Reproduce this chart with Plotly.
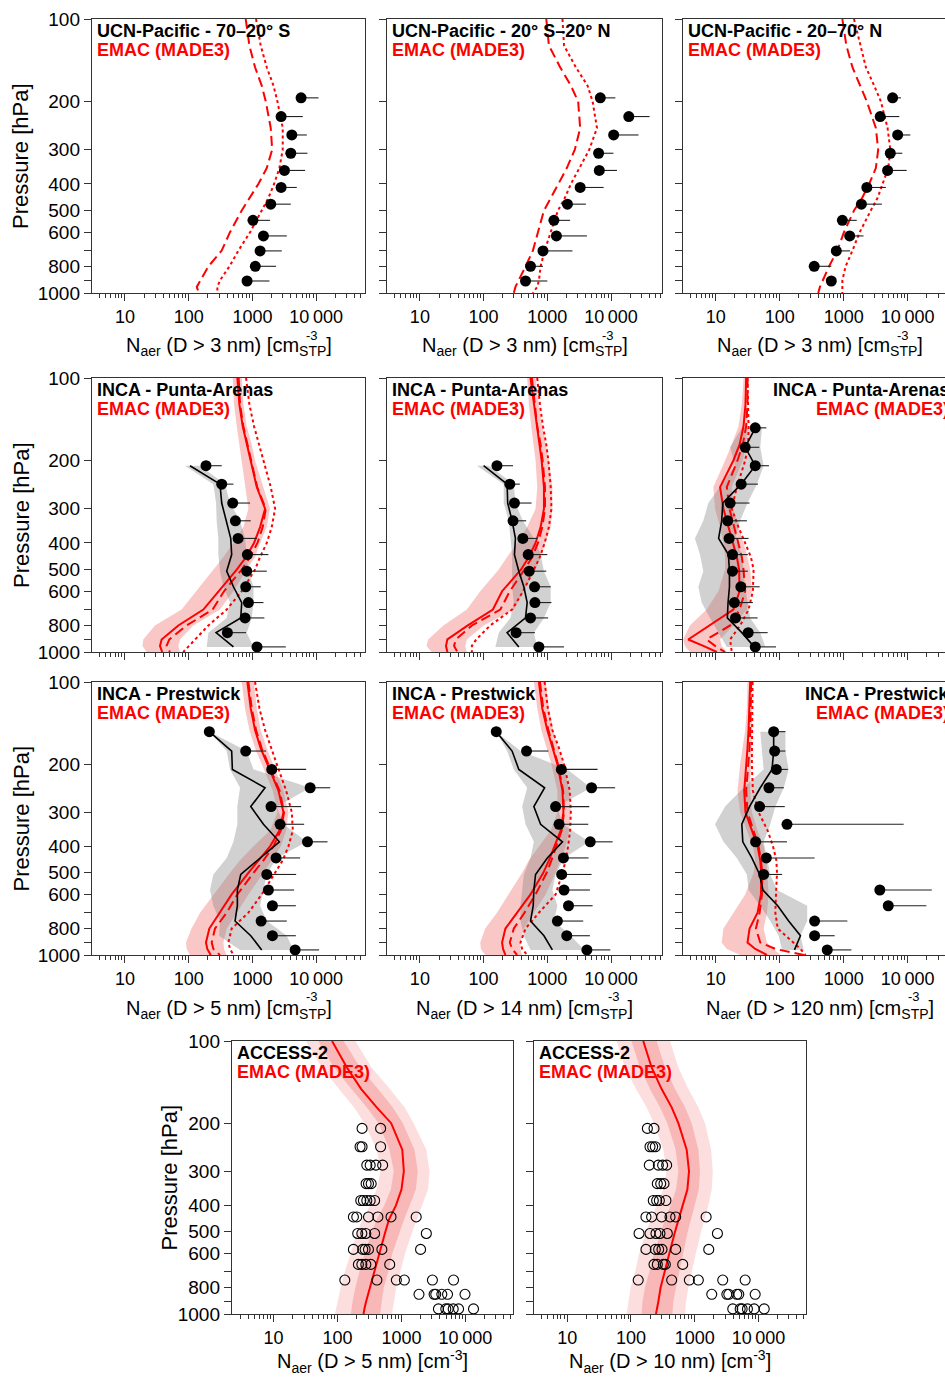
import plotly.graph_objects as go

# ------------------------------------------------------------------ data
P_MODEL = [100, 125, 150, 175, 200, 250, 300, 350, 400, 450, 500, 600, 700, 800, 900, 950, 1000]
P_UCN = [194, 227, 265, 309, 357, 412, 474, 543, 619, 702, 799, 904]
P_INCA12 = [209, 244, 286, 332, 385, 441, 507, 578, 660, 751, 850, 958]
P_INCA14 = [152, 179, 209, 244, 286, 332, 385, 441, 507, 578, 660, 751, 850, 958]
P_ACCESS = [209, 244, 285, 333, 384, 441, 507, 580, 658, 751, 847, 958]

X_TICKS = [10, 100, 1000, 10000]
X_TICKTEXT = ["10", "100", "1000", "10\u2009000"]
Y_TICKS = [100, 200, 300, 400, 500, 600, 800, 1000]
Y_TICKTEXT = ["100", "200", "300", "400", "500", "600", "800", "1000"]
Y_MINOR = [700, 900]

# UCN-Pacific 70-20 S
ucn_s_obs = [5800, 2820, 4150, 4000, 3180, 2820, 1940, 1020, 1490, 1320, 1110, 824]
ucn_s_hi = [10900, 6170, 7130, 7300, 6710, 4970, 4000, 1890, 3460, 2890, 2350, 1850]
ucn_s_dash = [785, 897, 1100, 1400, 1620, 1940, 2040, 1680, 1240, 897, 680, 445, 330, 204, 151, 134, 145]
ucn_s_dot = [1140, 1350, 1680, 2140, 2470, 2990, 2990, 2650, 2190, 1780, 1400, 919, 603, 435, 310, 282, 282]
# UCN-Pacific 20S-20N
ucn_t_obs = [6790, 19000, 11000, 6380, 6540, 3280, 2070, 1270, 1390, 855, 545, 455]
ucn_t_hi = [11700, 40300, 27000, 10900, 12400, 7660, 4030, 2280, 4180, 2480, 855, 1000]
ucn_t_dash = [964, 1060, 1590, 2340, 3050, 3280, 2700, 2020, 1490, 1130, 886, 713, 594, 455, 357, 316, 298]
ucn_t_dot = [1730, 1830, 2800, 4280, 5140, 6020, 4550, 3160, 2340, 1880, 1470, 1130, 908, 785, 739, 695, 594]
# UCN-Pacific 20-70 N
ucn_n_obs = [5810, 3720, 6970, 5350, 4850, 2300, 1890, 953, 1240, 767, 346, 640]
ucn_n_hi = [7850, 7400, 11000, 8240, 9640, 4570, 3950, 1600, 2040, 1260, 640, 748]
ucn_n_dash = [953, 1100, 1370, 1810, 2300, 3180, 3460, 3180, 2500, 1940, 1450, 1010, 795, 589, 462, 425, 400]
ucn_n_dot = [1450, 1810, 2220, 2990, 3810, 4850, 5350, 4970, 4050, 3380, 2650, 1780, 1370, 1070, 953, 953, 953]

# INCA Punta-Arenas D>5
pa5_obs = [187, 330, 491, 541, 596, 834, 815, 786, 865, 767, 405, 1180]
pa5_hi = [330, 504, 919, 941, 1170, 1780, 1680, 1350, 1490, 1540, 795, 3340]
pa5_med = [105, 310, 330, 385, 457, 473, 395, 504, 680, 656, 269, 504]
pa5_lo = [87.5, 244, 269, 275, 292, 292, 310, 351, 446, 395, 204, 192]
pa5_up = [151, 372, 446, 640, 767, 814, 865, 1040, 1040, 977, 814, 1040]
pa5_sol = [581, 625, 705, 815, 942, 1170, 1580, 1320, 1060, 796, 568, 292, 170, 68.9, 37.7, 35.5, 38.5]
pa5_blo = [491, 515, 568, 625, 680, 767, 865, 722, 504, 351, 244, 134, 77.6, 29.6, 19.4, 18.9, 21.9]
pa5_bhi = [680, 722, 814, 977, 1100, 1490, 1890, 1680, 1320, 1100, 814, 504, 310, 118, 73.1, 68.9, 73.1]
pa5_dash = [609, 640, 720, 830, 955, 1190, 1620, 1450, 1200, 919, 680, 359, 238, 93.1, 49.7, 45.1, 50.9]
pa5_dot = [796, 897, 1060, 1290, 1490, 1940, 2270, 2010, 1680, 1320, 1100, 680, 395, 204, 126, 98.8, 82.4]
# INCA Punta-Arenas D>14
pa14_obs = [162, 258, 305, 290, 413, 501, 520, 631, 639, 545, 324, 738]
pa14_hi = [290, 370, 566, 466, 695, 1000, 964, 1130, 1160, 1030, 639, 1830]
pa14_med = [100, 234, 239, 280, 316, 305, 357, 428, 483, 455, 234, 357]
pa14_lo = [78.5, 207, 207, 248, 264, 280, 280, 280, 298, 264, 173, 153]
pa14_up = [120, 298, 316, 413, 615, 785, 886, 1130, 1130, 886, 615, 695]
pa14_sol = [545, 615, 679, 757, 814, 886, 886, 785, 654, 514, 388, 195, 140, 56.6, 27, 25.7, 27]
pa14_blo = [483, 514, 559, 615, 654, 695, 654, 483, 336, 234, 173, 88.6, 54.6, 23.4, 13.5, 12.7, 15.3]
pa14_bhi = [654, 738, 834, 941, 1060, 1200, 1200, 1130, 941, 785, 654, 428, 298, 100, 54.6, 51.4, 54.6]
pa14_dash = [573, 631, 695, 785, 844, 919, 919, 834, 713, 580, 438, 258, 183, 65.5, 36.6, 34.4, 38.8]
pa14_dot = [695, 766, 855, 964, 1040, 1130, 1160, 1060, 908, 766, 615, 418, 280, 127, 76.6, 65.5, 65.5]
# INCA Punta-Arenas D>120
pa120_obs = [41.5, 28.9, 41.5, 25, 16.8, 15.4, 16.2, 18.3, 18.3, 24.7, 19.6, 20.4, 32.2, 41.5]
pa120_hi = [61.8, 48, 67.9, 45.7, 33.8, 30.7, 32.6, 31.8, 31.8, 48.6, 38.1, 45.1, 64.8, 87.5]
pa120_med = [41.5, 28.9, 41.5, 25, 12.9, 12.4, 11.1, 15.8, 16.4, 16.4, 15.6, 15.2, 25.6, 40.0]
pa120_lo = [25.6, 16.8, 20.1, 12.4, 7.67, 6.4, 4.73, 5.68, 6.4, 5.35, 6.03, 8.15, 11, 14.9]
pa120_up = [52.8, 49.7, 56.1, 44.1, 31.4, 24.1, 20.1, 25.6, 27.2, 28.9, 31.4, 34.6, 49.7, 59.6]
pa120_sol = [29.9, 29.2, 27.2, 23.6, 18.9, 11.7, 13.2, 15.8, 18.5, 21.4, 23.2, 23.6, 18.9, 8.15, 3.72, 6.4, 10.4]
pa120_blo = [27.2, 25.6, 22.7, 17.8, 14, 9.19, 9.76, 11.7, 13.2, 14, 14, 11, 7.23, 3.95, 3.1, 3.3, 3.95]
pa120_bhi = [31.4, 31.4, 31.4, 29.9, 26.5, 17.8, 18.9, 22.7, 27.2, 31.4, 34.6, 36.7, 30.7, 18.9, 11.7, 12.4, 14.9]
pa120_dash = [31.4, 31.4, 29.9, 26.5, 21.9, 14.9, 16.4, 19.4, 22.7, 25.6, 27.2, 28.9, 23.6, 16.8, 7.23, 9.76, 14]
pa120_dot = [31.4, 32.2, 32.6, 32.2, 28.9, 21.4, 17.8, 22.7, 28.9, 35.5, 39.1, 38.1, 32.6, 24.1, 16.8, 17.2, 17.8]

# INCA Prestwick D>5
pw5_obs = [211, 785, 2010, 8050, 1960, 2720, 7310, 2350, 1680, 1780, 2060, 1370, 2060, 4680]
pw5_hi = [211, 1640, 6970, 16600, 5810, 6480, 15100, 5610, 4850, 4510, 4800, 3460, 4800, 11100]
pw5_med = [211, 473, 485, 1580, 942, 1490, 2650, 1320, 656, 581, 581, 534, 942, 1400]
pw5_lo = [211, 395, 446, 640, 581, 581, 504, 395, 244, 216, 244, 310, 300, 640]
pw5_up = [211, 814, 1040, 8050, 2410, 3070, 7130, 2410, 1680, 1490, 1320, 1680, 3460, 4410]
pw5_sol = [834, 941, 1100, 1350, 1720, 2560, 3070, 2660, 1890, 1240, 865, 473, 310, 211, 187, 196, 222]
pw5_blo = [679, 767, 897, 1100, 1400, 2090, 2470, 1890, 1040, 640, 446, 244, 151, 111, 90.8, 93.1, 105]
pw5_bhi = [1060, 1170, 1350, 1680, 2140, 3070, 3670, 3380, 2790, 2010, 1490, 865, 568, 395, 351, 359, 395]
pw5_dash = [865, 977, 1140, 1400, 1780, 2660, 3140, 2790, 2140, 1490, 1040, 581, 395, 259, 230, 244, 310]
pw5_dot = [1100, 1290, 1580, 2010, 2410, 3380, 4150, 4300, 3670, 2990, 2270, 1400, 865, 473, 420, 446, 504]
# INCA Prestwick D>14
pw14_obs = [158, 472, 1660, 4950, 1350, 1530, 4720, 1790, 1680, 1830, 2150, 1440, 2020, 4180]
pw14_hi = [158, 1040, 6150, 11600, 4550, 4390, 10600, 4440, 4950, 4660, 5140, 3660, 4660, 9760]
pw14_med = [158, 280, 357, 908, 615, 785, 1730, 1000, 654, 615, 601, 545, 886, 1200]
pw14_lo = [158, 234, 298, 483, 403, 455, 615, 545, 428, 403, 379, 379, 428, 545]
pw14_up = [158, 379, 2070, 4830, 1440, 1730, 4550, 1830, 1350, 1200, 1440, 1270, 2340, 3790]
pw14_sol = [738, 834, 1000, 1200, 1440, 1730, 1790, 1620, 1310, 1060, 865, 545, 336, 220, 195, 202, 220]
pw14_blo = [615, 695, 804, 976, 1160, 1440, 1440, 1130, 738, 514, 403, 248, 162, 106, 88.6, 90.7, 106]
pw14_bhi = [941, 1060, 1240, 1470, 1790, 2200, 2340, 2200, 1950, 1620, 1350, 941, 615, 428, 379, 379, 403]
pw14_dash = [766, 865, 1040, 1240, 1470, 1770, 1830, 1680, 1400, 1160, 976, 654, 438, 298, 258, 280, 336]
pw14_dot = [908, 1020, 1200, 1530, 1830, 2250, 2340, 2280, 2120, 1950, 1730, 1350, 738, 455, 379, 403, 483]
# INCA Prestwick D>120
pw120_obs = [80.5, 83.4, 88.6, 67.9, 48.5, 130, 42, 61.8, 56.1, 3670, 4970, 351, 351, 553]
pw120_hi = [123, 123, 134, 116, 120, 8650, 130, 351, 109, 23800, 19600, 1140, 722, 1320]
pw120_med = [80.5, 80.5, 75.9, 49.7, 33.8, 25.6, 26.5, 36.7, 48.5, 54.7, 93.1, 138, 211, 170]
pw120_lo = [49.7, 52.8, 56.1, 27.2, 14, 9.76, 13.2, 21.4, 30.7, 32.6, 49.7, 71.3, 96.4, 109]
pw120_up = [123, 123, 138, 116, 85.5, 71.3, 56.1, 63.2, 71.3, 90.8, 269, 269, 211, 238]
pw120_sol = [34.6, 33.8, 32.6, 31.4, 29.9, 27.9, 29.2, 36.7, 45.1, 49.7, 51.5, 50.9, 45.1, 33.8, 31.4, 41.5, 63.2]
pw120_blo = [31.4, 30.7, 28.9, 26.5, 24.1, 21.9, 24.1, 30.7, 38.1, 41.5, 39.1, 28.9, 18.9, 13.2, 12.4, 14.9, 24.1]
pw120_bhi = [36.7, 36.7, 36.7, 36.7, 35.5, 34.6, 36.7, 45.1, 56.1, 61.8, 64.8, 67.2, 63.2, 56.1, 63.2, 80.5, 102]
pw120_dash = [35.9, 35.5, 34.6, 33.8, 32.6, 29.9, 31.4, 39.1, 46.8, 50.9, 53.5, 52.8, 48.5, 42.5, 49.7, 85.5, 238]
pw120_dot = [37.7, 37.7, 37.2, 36.7, 36.7, 38.1, 46.8, 64.8, 78.6, 88.7, 90.8, 87.5, 85.5, 93.1, 166, 211, 253]

# ACCESS-2 D>5 (individual values per pressure level)
acc5_obs = [[242, 472], [225, 242, 472], [287, 324, 398, 508], [280, 305, 336],
            [231, 254, 287, 324, 380], [177, 200, 305, 428, 687, 1700],
            [207, 240, 277, 380, 2450], [177, 248, 270, 305, 494, 1990],
            [212, 240, 277, 332, 655], [130, 413, 832, 1110, 3050, 6530],
            [1880, 3240, 3440, 4280, 5260, 9860], [3790, 4940, 5380, 6450, 7820, 13400]]
acc5_sol = [82, 140, 235, 410, 690, 1030, 1090, 1000, 820, 640, 560, 450, 370, 320, 280, 265, 255]
acc5_in_lo = [50, 88, 165, 285, 440, 650, 760, 680, 540, 410, 345, 265, 220, 190, 172, 166, 162]
acc5_in_hi = [125, 225, 430, 730, 1050, 1600, 1800, 1680, 1350, 1100, 930, 720, 620, 530, 490, 475, 466]
acc5_out_lo = [32, 57, 105, 180, 265, 410, 470, 410, 325, 245, 205, 160, 130, 112, 100, 95, 91]
acc5_out_hi = [190, 340, 660, 1120, 1550, 2450, 2750, 2600, 2150, 1750, 1480, 1140, 960, 830, 760, 735, 711]
# ACCESS-2 D>10
acc10_obs = [[181, 230], [199, 219, 241], [194, 269, 314, 363], [259, 293, 330],
             [224, 253, 279, 354], [172, 211, 303, 410, 503, 1510],
             [134, 199, 247, 285, 372, 2270], [172, 241, 272, 307, 503, 1660],
             [230, 259, 322, 346, 648], [130, 435, 824, 1140, 2750, 6180],
             [1850, 3190, 3420, 4570, 4910, 8870], [3950, 5160, 5540, 6710, 8550, 12300]]
acc10_sol = [156, 211, 303, 435, 554, 748, 814, 767, 648, 554, 491, 400, 342, 292, 269, 259, 247]
acc10_in_lo = [102, 138, 199, 285, 372, 503, 554, 509, 420, 342, 296, 230, 194, 166, 152, 149, 147]
acc10_in_hi = [253, 342, 491, 705, 897, 1140, 1210, 1160, 1010, 875, 776, 648, 574, 509, 462, 451, 446]
acc10_out_lo = [59.6, 80.5, 120, 176, 230, 322, 363, 322, 253, 204, 172, 135, 116, 98.9, 90.8, 87.5, 85.5]
acc10_out_hi = [410, 554, 796, 1140, 1450, 1810, 1920, 1850, 1640, 1420, 1260, 1040, 897, 796, 731, 714, 705]

# ------------------------------------------------------------------ style / layout
FONT = "Liberation Sans, Arial, Helvetica, sans-serif"
RED = "#ff0000"
W, H = 945, 1377
AXC = "#333333"


def px(x):
    return x / W


def py(y):
    return 1 - y / H


ROWS = {1: (19, 293), 2: (378, 652), 3: (682, 955), 4: (1041, 1314)}
COLS = {1: (92, 365, 0.484, 4.766, 228.5), 2: (387, 662, 0.484, 4.80, 524.5), 3: (683, 945, 0.489, 4.583, 819.5)}
COLS4 = {1: (232, 513, 0.349, 4.745, 372.5), 2: (534, 806, 0.48, 4.745, 670)}

fig = go.Figure()


def sfx(i):
    return "" if i == 1 else str(i)


def tr(i):
    return dict(xaxis="x" + sfx(i), yaxis="y" + sfx(i), showlegend=False, hoverinfo="skip")


def band(i, lo, hi, p, color):
    fig.add_trace(go.Scatter(x=list(lo) + list(hi)[::-1], y=list(p) + list(p)[::-1],
                             mode="lines", fill="toself", fillcolor=color,
                             line=dict(width=0, color=color), **tr(i)))


def line(i, xs, p, color, width, dash="solid"):
    fig.add_trace(go.Scatter(x=xs, y=p, mode="lines",
                             line=dict(color=color, width=width, dash=dash), **tr(i)))


def obs(i, xs, hi, p):
    fig.add_trace(go.Scatter(x=xs, y=p, mode="markers",
                             marker=dict(color="black", size=11),
                             error_x=dict(type="data", symmetric=False,
                                          array=[h - v for h, v in zip(hi, xs)],
                                          arrayminus=[0] * len(xs),
                                          color="#222222", thickness=1.1, width=0),
                             **tr(i)))


PINK = "rgba(240,70,70,0.30)"
GREY = "rgba(128,128,128,0.36)"
DASH = "10px,5px"
DOT = "3px,3px"

# row 1: UCN
for i, (o, h, d, t) in enumerate([(ucn_s_obs, ucn_s_hi, ucn_s_dash, ucn_s_dot),
                                  (ucn_t_obs, ucn_t_hi, ucn_t_dash, ucn_t_dot),
                                  (ucn_n_obs, ucn_n_hi, ucn_n_dash, ucn_n_dot)], 1):
    line(i, d, P_MODEL, RED, 2, DASH)
    line(i, t, P_MODEL, RED, 2, DOT)
    obs(i, o, h, P_UCN)

# rows 2 and 3: INCA
inca = [
    (4, pa5_obs, pa5_hi, pa5_med, pa5_lo, pa5_up, pa5_sol, pa5_blo, pa5_bhi, pa5_dash, pa5_dot, P_INCA12),
    (5, pa14_obs, pa14_hi, pa14_med, pa14_lo, pa14_up, pa14_sol, pa14_blo, pa14_bhi, pa14_dash, pa14_dot, P_INCA12),
    (6, pa120_obs, pa120_hi, pa120_med, pa120_lo, pa120_up, pa120_sol, pa120_blo, pa120_bhi, pa120_dash, pa120_dot, P_INCA14),
    (7, pw5_obs, pw5_hi, pw5_med, pw5_lo, pw5_up, pw5_sol, pw5_blo, pw5_bhi, pw5_dash, pw5_dot, P_INCA14),
    (8, pw14_obs, pw14_hi, pw14_med, pw14_lo, pw14_up, pw14_sol, pw14_blo, pw14_bhi, pw14_dash, pw14_dot, P_INCA14),
    (9, pw120_obs, pw120_hi, pw120_med, pw120_lo, pw120_up, pw120_sol, pw120_blo, pw120_bhi, pw120_dash, pw120_dot, P_INCA14),
]
for (i, o, h, med, lo, up, sol, blo, bhi, d, t, pobs) in inca:
    band(i, blo, bhi, P_MODEL, PINK)
    band(i, lo, up, pobs, GREY)
    line(i, sol, P_MODEL, RED, 2)
    line(i, d, P_MODEL, RED, 2, DASH)
    line(i, t, P_MODEL, RED, 2, DOT)
    line(i, med, pobs, "black", 1.6)
    obs(i, o, h, pobs)

# row 4: ACCESS-2
for i, (o, sol, ilo, ihi, olo, ohi) in [(10, (acc5_obs, acc5_sol, acc5_in_lo, acc5_in_hi, acc5_out_lo, acc5_out_hi)),
                                         (11, (acc10_obs, acc10_sol, acc10_in_lo, acc10_in_hi, acc10_out_lo, acc10_out_hi))]:
    band(i, olo, ohi, P_MODEL, "rgba(240,70,70,0.18)")
    band(i, ilo, ihi, P_MODEL, "rgba(240,70,70,0.25)")
    line(i, sol, P_MODEL, RED, 2)
    xs, ys = [], []
    for lev, vals in zip(P_ACCESS, o):
        xs += vals
        ys += [lev] * len(vals)
    fig.add_trace(go.Scatter(x=xs, y=ys, mode="markers",
                             marker=dict(symbol="circle-open", size=10, color="black",
                                         line=dict(width=1.1, color="black")), **tr(i)))

# ------------------------------------------------------------------ axes
MINOR = [m * 10 ** e for e in range(0, 5) for m in range(2, 10)]
geom = []
for r in (1, 2, 3):
    for c in (1, 2, 3):
        L, R, x0, x1, cx = COLS[c]
        geom.append((L, R, ROWS[r][0], ROWS[r][1], x0, x1, r != 2, c == 1))
for c in (1, 2):
    L, R, x0, x1, cx = COLS4[c]
    geom.append((L, R, ROWS[4][0], ROWS[4][1], x0, x1, True, c == 1))

layout = {}
for i, (L, R, T, B, x0, x1, showx, showy) in enumerate(geom, 1):
    layout["xaxis" + sfx(i)] = dict(
        domain=[px(L), px(R)], anchor="y" + sfx(i), type="log", range=[x0, x1],
        automargin=False,
        tickmode="array", tickvals=X_TICKS, ticktext=X_TICKTEXT,
        ticks="outside", ticklen=7, tickwidth=1.2, tickcolor=AXC,
        showline=True, linecolor=AXC, linewidth=1.4, mirror=True,
        showgrid=False, zeroline=False, showticklabels=showx,
        tickfont=dict(family=FONT, size=18, color="black"),
        minor=dict(tickvals=MINOR, ticks="outside", ticklen=4, tickwidth=1, tickcolor=AXC, showgrid=False),
    )
    layout["yaxis" + sfx(i)] = dict(
        domain=[py(B), py(T)], anchor="x" + sfx(i), type="log", range=[3, 2],
        automargin=False,
        tickmode="array", tickvals=Y_TICKS, ticktext=Y_TICKTEXT,
        ticks="outside", ticklen=7, tickwidth=1.2, tickcolor=AXC,
        showline=True, linecolor=AXC, linewidth=1.4, mirror=True,
        showgrid=False, zeroline=False, showticklabels=showy,
        tickfont=dict(family=FONT, size=19, color="black"),
        minor=dict(tickvals=Y_MINOR, ticks="outside", ticklen=7, tickwidth=1.2, tickcolor=AXC, showgrid=False),
    )
fig.update_layout(**layout)

# ------------------------------------------------------------------ annotations
AW = {'N': .722, 'a': .556, 'e': .556, 'r': .333, ' ': .278, '(': .333, ')': .333, 'D': .722,
      '>': .584, 'n': .556, 'm': .833, '[': .278, ']': .278, 'c': .5, 'S': .667, 'T': .611,
      'P': .667, '-': .333}


def tw(s):
    return sum(AW.get(ch, .556) for ch in s)


def ann(text, x, y, size, color="black", xa="left", ya="middle", angle=0):
    fig.add_annotation(text=text, x=px(x), y=py(y), xref="paper", yref="paper",
                       xanchor=xa, yanchor=ya, showarrow=False, textangle=angle,
                       font=dict(family=FONT, size=size, color=color))


def xtitle(cx, cy, label, stp=True):
    F = 20
    if stp:
        ann("N<sub>aer</sub> (D &gt; %s nm) [cm<sub>STP</sub>]" % label, cx, cy + 3, F, xa="center")
        before = tw("N") + 0.7 * tw("aer") + tw(" (D > %s nm) [cm" % label)
        stpw = 0.7 * tw("STP")
        total = before + stpw + tw("]")
        off = (before + stpw / 2 - total / 2) * F
        ann("-3", cx + off, cy - 9, 13, xa="center")
    else:
        ann("N<sub>aer</sub> (D &gt; %s nm) [cm<sup>-3</sup>]" % label, cx, cy, F, xa="center")


titles = [
    ("UCN-Pacific - 70\u201320\u00b0 S", 1, 1, "l"),
    ("UCN-Pacific - 20\u00b0 S\u201320\u00b0 N", 1, 2, "l"),
    ("UCN-Pacific - 20\u201370\u00b0 N", 1, 3, "l"),
    ("INCA - Punta-Arenas", 2, 1, "l"),
    ("INCA - Punta-Arenas", 2, 2, "l"),
    ("INCA - Punta-Arenas", 2, 3, "r"),
    ("INCA - Prestwick", 3, 1, "l"),
    ("INCA - Prestwick", 3, 2, "l"),
    ("INCA - Prestwick", 3, 3, "r"),
]
for text, r, c, al in titles:
    T = ROWS[r][0]
    if al == "l":
        x, xa = COLS[c][0] + 3, "left"
    else:
        x, xa = 951, "right"
    ann("<b>%s</b>" % text, x, T + 12, 18, "black", xa)
    ann("<b>EMAC (MADE3)</b>", x, T + 31, 18, RED, xa)
for c in (1, 2):
    T = ROWS[4][0]
    x = COLS4[c][0] + 3
    ann("<b>ACCESS-2</b>", x, T + 12, 18, "black")
    ann("<b>EMAC (MADE3)</b>", x, T + 31, 18, RED)

# y titles
for r in (1, 2, 3):
    T, B = ROWS[r]
    ann("Pressure [hPa]", 21, (T + B) / 2, 22, xa="center", angle=-90)
ann("Pressure [hPa]", 169, (ROWS[4][0] + ROWS[4][1]) / 2, 22, xa="center", angle=-90)

# x titles
for r in (1, 3):
    B = ROWS[r][1]
    labels = ["3", "3", "3"] if r == 1 else ["5", "14", "120"]
    for c in (1, 2, 3):
        xtitle(COLS[c][4], B + 51, labels[c - 1])
xtitle(COLS4[1][4], ROWS[4][1] + 47, "5", stp=False)
xtitle(COLS4[2][4], ROWS[4][1] + 47, "10", stp=False)

fig.update_layout(width=W, height=H, margin=dict(l=0, r=0, t=0, b=0, pad=0, autoexpand=False),
                  paper_bgcolor="white", plot_bgcolor="white", showlegend=False,
                  font=dict(family=FONT))

fig.write_html("out.html", config={"displayModeBar": False},
               post_script="document.body.style.margin='0';document.body.style.overflow='hidden';")
